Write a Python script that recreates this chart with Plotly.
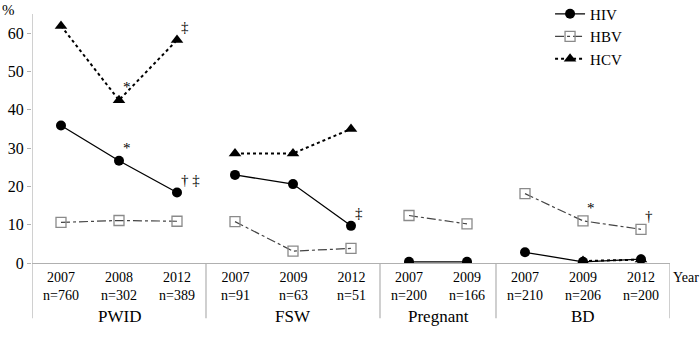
import plotly.graph_objects as go

groups = ["PWID", "FSW", "Pregnant", "BD"]
years = [["2007", "2008", "2012"], ["2007", "2009", "2012"], ["2007", "2009"], ["2007", "2009", "2012"]]
sizes = [["760", "302", "389"], ["91", "63", "51"], ["200", "166"], ["210", "206", "200"]]

hiv = [[35.9, 26.7, 18.4], [23.0, 20.6, 9.7], [0.3, 0.3], [2.8, 0.3, 1.0]]
hbv = [[10.6, 11.1, 10.9], [10.8, 3.1, 3.8], [12.4, 10.2], [18.1, 11.0, 8.8]]
hcv = [[61.9, 42.5, 58.2], [28.6, 28.6, 35.0], [None, 0.2], [None, 0.5, 0.9]]

# significance marks: (group index, point index, series, text)
marks = [(0, 1, "hcv", "*"), (0, 1, "hiv", "*"), (0, 2, "hiv", "† ‡"), (0, 2, "hcv", "‡"),
         (1, 2, "hiv", "‡"), (3, 1, "hbv", "*"), (3, 2, "hbv", "†")]

FONT = "Liberation Serif, DejaVu Serif, serif"

xs_groups = []
pos = 0
for g in years:
    xs_groups.append(list(range(pos, pos + len(g))))
    pos += len(g)
n_total = pos

def flat(series):
    xs, ys = [], []
    for gx, gy in zip(xs_groups, series):
        xs += gx + [None]
        ys += gy + [None]
    return xs, ys

fig = go.Figure()
x, y = flat(hiv)
fig.add_trace(go.Scatter(x=x, y=y, name="HIV", mode="lines+markers",
                         line=dict(color="black", width=1.3),
                         marker=dict(symbol="circle", size=10, color="black")))
x, y = flat(hbv)
fig.add_trace(go.Scatter(x=x, y=y, name="HBV", mode="lines+markers",
                         line=dict(color="#444444", width=1.2, dash="dashdot"),
                         marker=dict(symbol="square-open", size=10, color="#8a8a8a", line=dict(width=1.3))))
x, y = flat(hcv)
fig.add_trace(go.Scatter(x=x, y=y, name="HCV", mode="lines+markers",
                         line=dict(color="black", width=2, dash="dot"),
                         marker=dict(symbol="triangle-up", size=11, color="black")))

series_map = {"hiv": hiv, "hbv": hbv, "hcv": hcv}
annotations = []
for gi, pi, s, txt in marks:
    annotations.append(dict(x=xs_groups[gi][pi], y=series_map[s][gi][pi], xref="x", yref="y",
                            text=txt, showarrow=False, xanchor="left", yanchor="bottom",
                            xshift=2, yshift=3, font=dict(family=FONT, size=15, color="black")))

for gx, gy, gs in zip(xs_groups, years, sizes):
    for xx, yr, n in zip(gx, gy, gs):
        annotations.append(dict(x=xx, y=-0.02, xref="x", yref="paper", yanchor="top",
                                text=f"{yr}<br>n={n}", showarrow=False,
                                font=dict(family=FONT, size=14, color="black")))
for g, gx in zip(groups, xs_groups):
    annotations.append(dict(x=sum(gx) / len(gx), y=-0.17, xref="x", yref="paper", yanchor="top",
                            text=g, showarrow=False, font=dict(family=FONT, size=17, color="black")))
annotations.append(dict(x=1.002, y=-0.02, xref="paper", yref="paper", xanchor="left", yanchor="top",
                        text="Year", showarrow=False, font=dict(family=FONT, size=14, color="black")))
annotations.append(dict(x=-0.05, y=1.055, xref="paper", yref="paper", xanchor="left", yanchor="top",
                        text="%", showarrow=False, font=dict(family=FONT, size=15, color="black")))

shapes = []
seps = [-0.5] + [gx[-1] + 0.5 for gx in xs_groups]
for i, s in enumerate(seps):
    shapes.append(dict(type="line", xref="x", yref="paper", x0=s, x1=s,
                       y0=-0.222, y1=1.0 if i == 0 else 0, line=dict(color="#b0b0b0", width=1.2)))

fig.update_layout(
    width=700, height=338,
    margin=dict(l=32, r=30, t=14, b=75, autoexpand=False),
    paper_bgcolor="white", plot_bgcolor="white",
    font=dict(family=FONT, color="black"),
    showlegend=True,
    legend=dict(x=0.812, y=1.066, xanchor="left", yanchor="top", bgcolor="rgba(0,0,0,0)",
                font=dict(family=FONT, size=15), tracegroupgap=0, itemwidth=30),
    annotations=annotations,
    shapes=shapes,
)
fig.update_xaxes(range=[-0.5, n_total - 0.5], showticklabels=False, showgrid=False, zeroline=False,
                 showline=False, ticks="", automargin=False)
fig.update_yaxes(range=[0, 65], tickvals=[0, 10, 20, 30, 40, 50, 60], showgrid=False,
                 zeroline=True, zerolinecolor="#b0b0b0", zerolinewidth=1.2,
                 showline=False, ticks="outside", ticklen=4, tickcolor="#b0b0b0", automargin=False,
                 tickfont=dict(family=FONT, size=16, color="black"))

fig.write_html("out.html", config={"displayModeBar": False},
               post_script="document.body.style.margin='0';")
